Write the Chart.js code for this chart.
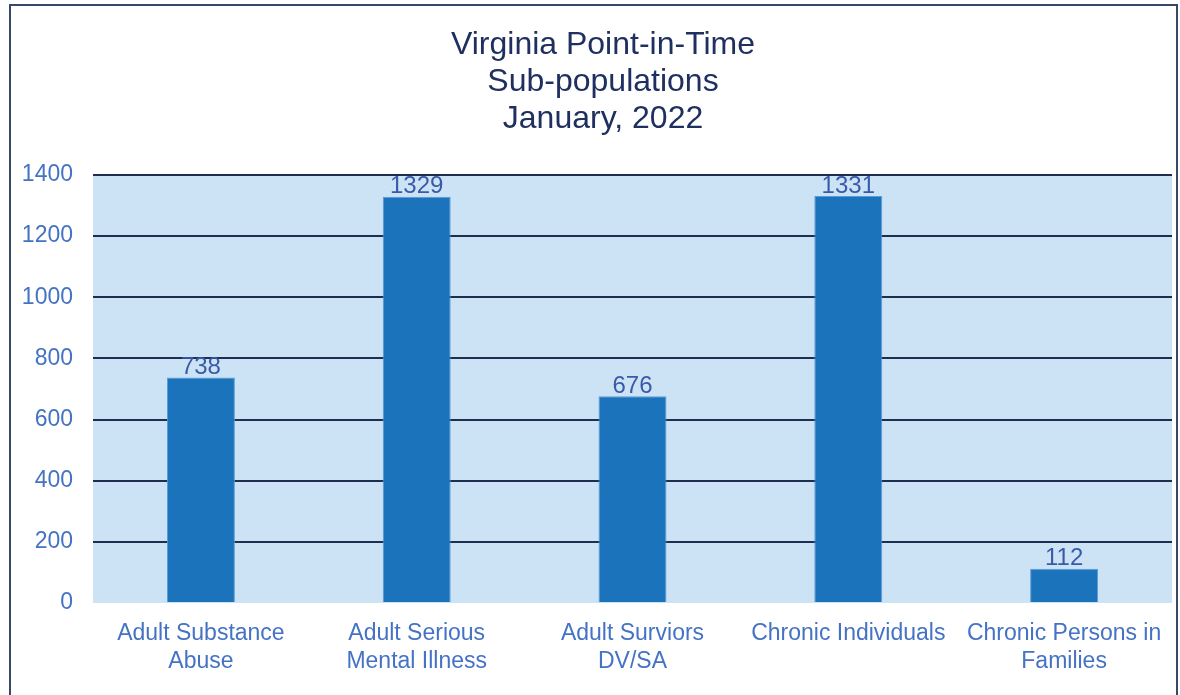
<!DOCTYPE html>
<html>
<head>
<meta charset="utf-8">
<script src="https://cdn.jsdelivr.net/npm/chart.js@4"></script>
<style>
  body { margin: 0; background: #fff; }
</style>
</head>
<body>
<canvas id="mychart" width="1180" height="695"></canvas>
<script>
const categories = [
    ['Adult Substance', 'Abuse'],
    ['Adult Serious', 'Mental Illness'],
    ['Adult Surviors', 'DV/SA'],
    ['Chronic Individuals'],
    ['Chronic Persons in', 'Families']
];
const counts = [738, 1329, 676, 1331, 112];
const titleLines = ['Virginia Point-in-Time', 'Sub-populations', 'January, 2022'];

const frame = {
    id: 'frame',
    beforeDraw(chart) {
        const ctx = chart.ctx;
        const a = chart.chartArea;
        ctx.save();
        ctx.fillStyle = '#fff';
        ctx.fillRect(0, 0, chart.width, chart.height);
        ctx.strokeStyle = '#3a4868';
        ctx.lineWidth = 2;
        ctx.strokeRect(10, 5, 1167, 700);
        ctx.fillStyle = '#cce3f6';
        ctx.fillRect(a.left, a.top, a.right - a.left, a.bottom - a.top);
        ctx.fillStyle = '#1f3060';
        ctx.font = '32px "Liberation Sans", Arial, sans-serif';
        ctx.textAlign = 'center';
        ctx.textBaseline = 'middle';
        titleLines.forEach((t, i) => ctx.fillText(t, 603, 45 + i * 37));
        ctx.restore();
    },
    afterDatasetsDraw(chart) {
        const ctx = chart.ctx;
        const meta = chart.getDatasetMeta(0);
        ctx.save();
        ctx.fillStyle = '#3a5aa8';
        ctx.font = '24px "Liberation Sans", Arial, sans-serif';
        ctx.textAlign = 'center';
        ctx.textBaseline = 'bottom';
        meta.data.forEach((bar, i) => {
            ctx.fillText(String(counts[i]), bar.x, bar.y + 2);
        });
        ctx.restore();
    }
};

new Chart(document.getElementById('mychart'), {
    type: 'bar',
    data: {
        labels: categories,
        datasets: [{
            data: counts,
            backgroundColor: '#1b73bb',
            borderColor: '#5b9bd5',
            borderWidth: 1,
            categoryPercentage: 1,
            barPercentage: 0.315
        }]
    },
    options: {
        responsive: false,
        animation: false,
        devicePixelRatio: 1,
        layout: { padding: { top: 175, right: 8, left: 0, bottom: 0 } },
        plugins: {
            legend: { display: false },
            tooltip: { enabled: false }
        },
        scales: {
            x: {
                grid: { display: false, drawTicks: false },
                border: { display: false },
                ticks: {
                    color: '#4472c4',
                    font: { family: '"Liberation Sans", Arial, sans-serif', size: 23, lineHeight: 1.2 },
                    padding: 17,
                    maxRotation: 0,
                    autoSkip: false
                },
                afterFit: s => { s.height = 92; }
            },
            y: {
                min: 0,
                max: 1400,
                ticks: {
                    stepSize: 200,
                    color: '#4472c4',
                    font: { family: '"Liberation Sans", Arial, sans-serif', size: 23 },
                    padding: 20,
                    callback: v => String(v)
                },
                grid: {
                    drawTicks: false,
                    lineWidth: 2,
                    color: c => c.tick && c.tick.value === 0 ? 'rgba(0,0,0,0)' : '#1f2d50'
                },
                border: { display: false },
                afterFit: s => { s.width = 93; }
            }
        }
    },
    plugins: [frame]
});
</script>
</body>
</html>
